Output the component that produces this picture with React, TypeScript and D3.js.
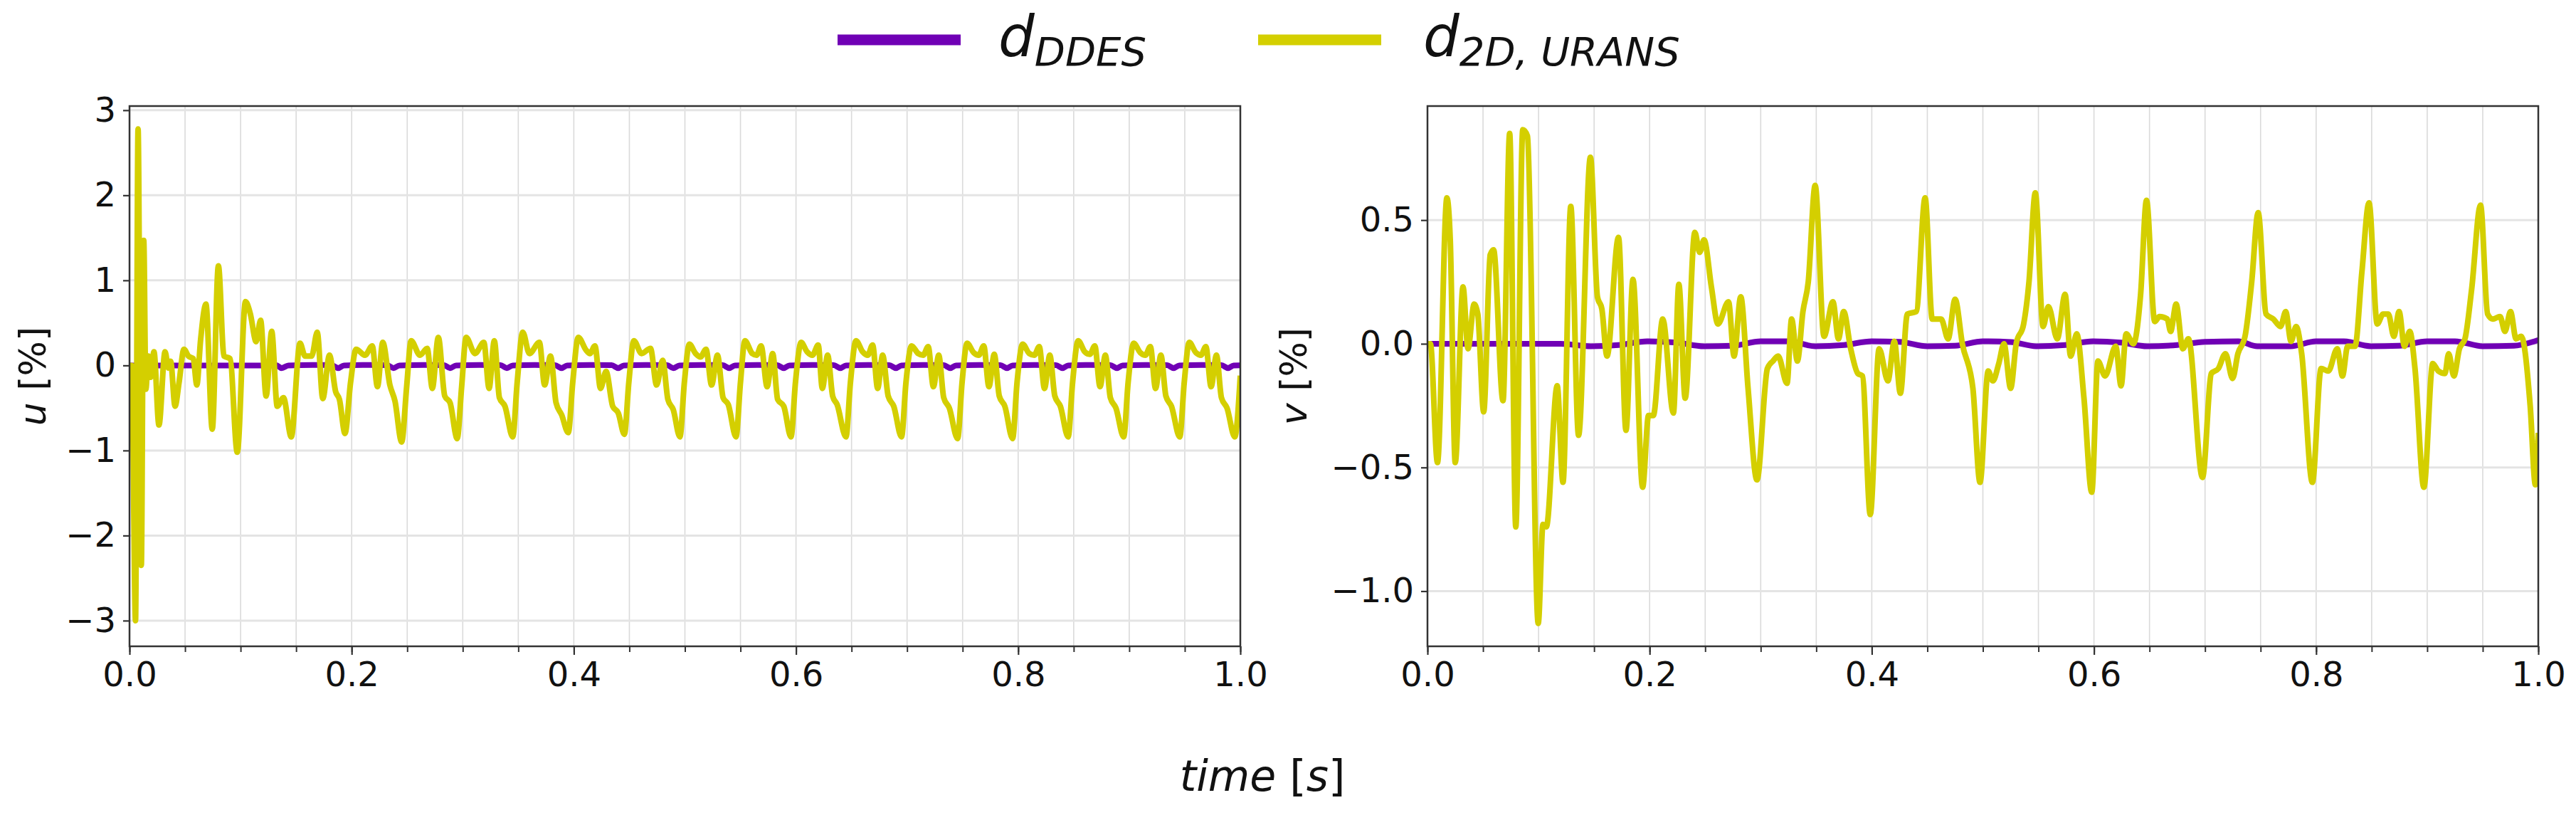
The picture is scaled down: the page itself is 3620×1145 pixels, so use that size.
import { useEffect, useRef } from 'react';
import * as d3 from 'd3';

type Pt = [number, number];

// Ticks
const xTicks = [0, 0.2, 0.4, 0.6, 0.8, 1.0];
const xGridTicks = [0, 0.05, 0.1, 0.15, 0.2, 0.25, 0.3, 0.35, 0.4, 0.45, 0.5, 0.55, 0.6, 0.65, 0.7, 0.75, 0.8, 0.85, 0.9, 0.95, 1.0];
const uTicks = [-3, -2, -1, 0, 1, 2, 3];
const vTicks = [-1.0, -0.5, 0.0, 0.5];

// u [%] - 2D URANS
const uUrans: Pt[] = [
  [0, 0], [0.002, 0.0], [0.0054, -3.0], [0.0077, 2.78], [0.0106, -2.35], [0.0128, 1.47], [0.0147, -0.28],
  [0.017, 0.11], [0.019, -0.14], [0.022, 0.16], [0.0265, -0.70], [0.032, 0.16], [0.035, -0.03], [0.037, 0.05],
  [0.041, -0.48], [0.0446, -0.20], [0.049, 0.19], [0.053, 0.11], [0.0574, 0.08], [0.0606, -0.23], [0.064, 0.30],
  [0.0688, 0.72], [0.0745, -0.75], [0.080, 1.17], [0.085, 0.11], [0.0905, 0.08], [0.097, -1.02], [0.1044, 0.75],
  [0.1087, 0.61], [0.114, 0.28], [0.118, 0.53], [0.123, -0.36], [0.128, 0.40], [0.133, -0.48], [0.1386, -0.38],
  [0.1456, -0.84], [0.1535, 0.26], [0.158, 0.11], [0.164, 0.11], [0.169, 0.39], [0.174, -0.39], [0.180, 0.12],
  [0.1856, -0.31], [0.189, -0.40], [0.194, -0.80],
  [0.199, -0.20], [0.204, 0.19], [0.212, 0.12], [0.2185, 0.23], [0.2232, -0.25], [0.228, 0.27], [0.2344, -0.23], [0.239, -0.42], [0.245, -0.90],
  [0.2495, -0.25], [0.2535, 0.29], [0.2615, 0.12], [0.268, 0.20], [0.2726, -0.27], [0.278, 0.33], [0.2838, -0.36], [0.2886, -0.44], [0.295, -0.86],
  [0.299, -0.25], [0.303, 0.33], [0.311, 0.14], [0.319, 0.27], [0.3237, -0.27], [0.3284, 0.29], [0.333, -0.38], [0.338, -0.48], [0.345, -0.84],
  [0.349, -0.20], [0.354, 0.39], [0.36, 0.14], [0.369, 0.27], [0.3737, -0.23], [0.379, 0.11], [0.384, -0.44], [0.389, -0.58], [0.395, -0.79],
  [0.399, -0.20], [0.404, 0.33], [0.411, 0.18], [0.4145, 0.14], [0.419, 0.23], [0.424, -0.27], [0.429, -0.07], [0.435, -0.48], [0.44, -0.56], [0.4455, -0.81],
  [0.4495, -0.20], [0.454, 0.29], [0.461, 0.14], [0.469, 0.20], [0.4745, -0.23], [0.48, 0.06], [0.4847, -0.40], [0.4895, -0.52], [0.4955, -0.84],
  [0.4995, -0.20], [0.504, 0.25], [0.5096, 0.14], [0.514, 0.10], [0.519, 0.19], [0.524, -0.23], [0.5293, 0.12], [0.5344, -0.38], [0.539, -0.46], [0.546, -0.84],
  [0.55, -0.20], [0.554, 0.29], [0.5606, 0.14], [0.5645, 0.12], [0.5686, 0.23], [0.574, -0.25], [0.579, 0.14], [0.5835, -0.40], [0.589, -0.48], [0.5955, -0.84],
  [0.5995, -0.20], [0.6046, 0.27], [0.61, 0.16], [0.6148, 0.12], [0.62, 0.24], [0.6237, -0.27], [0.6285, 0.12], [0.633, -0.36], [0.637, -0.46], [0.645, -0.84],
  [0.649, -0.20], [0.654, 0.29], [0.66, 0.16], [0.6645, 0.12], [0.669, 0.24], [0.6735, -0.27], [0.678, 0.12], [0.683, -0.36], [0.688, -0.48], [0.695, -0.84],
  [0.699, -0.20], [0.704, 0.23], [0.71, 0.14], [0.7145, 0.12], [0.719, 0.22], [0.7237, -0.25], [0.7285, 0.12], [0.733, -0.38], [0.738, -0.50], [0.7455, -0.86],
  [0.7495, -0.20], [0.754, 0.26], [0.76, 0.15], [0.7645, 0.12], [0.769, 0.23], [0.7737, -0.25], [0.7785, 0.13], [0.783, -0.36], [0.788, -0.48], [0.795, -0.86],
  [0.799, -0.20], [0.804, 0.25], [0.81, 0.14], [0.8145, 0.12], [0.819, 0.22], [0.8237, -0.27], [0.8285, 0.12], [0.833, -0.36], [0.838, -0.48], [0.845, -0.84],
  [0.849, -0.20], [0.854, 0.29], [0.86, 0.16], [0.8645, 0.13], [0.869, 0.23], [0.8737, -0.25], [0.8785, 0.12], [0.883, -0.38], [0.888, -0.50], [0.895, -0.84],
  [0.899, -0.20], [0.904, 0.26], [0.91, 0.15], [0.9145, 0.12], [0.919, 0.22], [0.9237, -0.27], [0.9285, 0.12], [0.933, -0.36], [0.938, -0.48], [0.9455, -0.84],
  [0.9495, -0.20], [0.954, 0.27], [0.96, 0.15], [0.9645, 0.12], [0.969, 0.22], [0.9737, -0.25], [0.9785, 0.12], [0.983, -0.38], [0.988, -0.50], [0.995, -0.84],
  [1.0, -0.12],
];

// u [%] - DDES
const uDdes: Pt[] = [
  [0, 0.0], [0.125, 0.0], [0.132, 0.004], [0.137, -0.032], [0.143, 0.0], [0.165, 0.005],
  [0.182, 0.003], [0.188, -0.032], [0.193, 0.0], [0.215, 0.005],
  [0.232, 0.003], [0.2376, -0.032], [0.243, 0.0], [0.265, 0.005],
  [0.283, 0.003], [0.2886, -0.032], [0.294, 0.0], [0.315, 0.005],
  [0.334, 0.003], [0.3396, -0.032], [0.345, 0.0], [0.365, 0.005],
  [0.383, 0.003], [0.389, -0.032], [0.394, 0.0], [0.415, 0.005],
  [0.434, 0.003], [0.44, -0.032], [0.445, 0.0], [0.465, 0.005],
  [0.484, 0.003], [0.4895, -0.032], [0.495, 0.0], [0.515, 0.005],
  [0.534, 0.003], [0.54, -0.032], [0.545, 0.0], [0.565, 0.005],
  [0.583, 0.003], [0.589, -0.032], [0.594, 0.0], [0.615, 0.005],
  [0.634, 0.003], [0.64, -0.032], [0.645, 0.0], [0.665, 0.005],
  [0.684, 0.003], [0.69, -0.032], [0.695, 0.0], [0.715, 0.005],
  [0.733, 0.003], [0.739, -0.032], [0.744, 0.0], [0.765, 0.005],
  [0.784, 0.003], [0.79, -0.032], [0.795, 0.0], [0.815, 0.005],
  [0.834, 0.003], [0.84, -0.032], [0.845, 0.0], [0.865, 0.005],
  [0.883, 0.003], [0.889, -0.032], [0.894, 0.0], [0.915, 0.005],
  [0.934, 0.003], [0.94, -0.032], [0.945, 0.0], [0.965, 0.005],
  [0.983, 0.003], [0.989, -0.032], [0.994, 0.0], [1.0, 0.002],
];

// v [%] - 2D URANS
const vUrans: Pt[] = [
  [0, 0.0], [0.0026, 0.0], [0.009, -0.48], [0.0175, 0.59], [0.0205, 0.42], [0.025, -0.48], [0.032, 0.23],
  [0.0365, -0.02], [0.042, 0.16], [0.0453, 0.12], [0.0506, -0.275], [0.0565, 0.36], [0.0595, 0.38], [0.068, -0.23],
  [0.074, 0.85], [0.0795, -0.74], [0.0858, 0.865], [0.090, 0.84], [0.0997, -1.13], [0.104, -0.73], [0.107, -0.74],
  [0.1168, -0.17], [0.122, -0.56], [0.129, 0.555], [0.136, -0.37], [0.1467, 0.754], [0.153, 0.19], [0.157, 0.14],
  [0.1616, -0.05], [0.172, 0.43], [0.1787, -0.35], [0.185, 0.26], [0.1937, -0.58], [0.199, -0.29], [0.2033, -0.29],
  [0.2118, 0.10], [0.2214, -0.28], [0.2263, 0.24], [0.232, -0.22], [0.2407, 0.45], [0.245, 0.37], [0.249, 0.42],
  [0.2556, 0.23], [0.2615, 0.08], [0.271, 0.17], [0.276, -0.05], [0.282, 0.19], [0.2886, -0.18], [0.2966, -0.55],
  [0.306, -0.10], [0.311, -0.07], [0.3157, -0.05], [0.3237, -0.16], [0.3278, 0.10], [0.333, -0.07], [0.338, 0.13],
  [0.3428, 0.25], [0.349, 0.64], [0.357, 0.03], [0.365, 0.17], [0.37, 0.02], [0.3747, 0.13], [0.381, -0.02],
  [0.3874, -0.12], [0.3916, -0.13], [0.3986, -0.69], [0.4066, -0.02], [0.4145, -0.15], [0.4203, 0.01], [0.4257, -0.20],
  [0.432, 0.12], [0.44, 0.13], [0.448, 0.59], [0.4544, 0.10], [0.4624, 0.10], [0.4687, 0.02], [0.475, 0.18],
  [0.4815, 0.0], [0.491, -0.18], [0.4974, -0.56], [0.5048, -0.11], [0.509, -0.15], [0.5143, -0.08], [0.519, 0.0],
  [0.525, -0.18], [0.530, 0.0], [0.5367, 0.08], [0.5415, 0.25], [0.5472, 0.61], [0.5542, 0.07], [0.559, 0.15],
  [0.567, 0.02], [0.574, 0.20], [0.579, -0.05], [0.5845, 0.04], [0.591, -0.22], [0.598, -0.60], [0.6036, -0.07],
  [0.61, -0.13], [0.6196, -0.01], [0.6244, -0.17], [0.629, 0.04], [0.6355, 0.0], [0.642, 0.20], [0.6473, 0.58],
  [0.6547, 0.09], [0.659, 0.11], [0.666, 0.10], [0.669, 0.05], [0.674, 0.16], [0.680, -0.02], [0.685, 0.02],
  [0.6977, -0.54], [0.7057, -0.12], [0.712, -0.10], [0.7184, -0.04], [0.7248, -0.14], [0.7296, -0.04], [0.736, 0.03],
  [0.742, 0.25], [0.7478, 0.53], [0.755, 0.12], [0.7615, 0.10], [0.768, 0.07], [0.7726, 0.13], [0.7774, 0.01],
  [0.782, 0.07], [0.787, -0.04], [0.7966, -0.56], [0.8045, -0.10], [0.811, -0.11], [0.819, -0.02], [0.8237, -0.13],
  [0.8284, -0.01], [0.835, -0.01], [0.8412, 0.29], [0.8476, 0.57], [0.855, 0.08], [0.8603, 0.12], [0.865, 0.12],
  [0.87, 0.03], [0.8747, 0.13], [0.8795, -0.01], [0.8843, 0.05], [0.889, -0.10], [0.897, -0.58], [0.905, -0.08],
  [0.91, -0.11], [0.916, -0.12], [0.9193, -0.04], [0.924, -0.13], [0.929, -0.02], [0.934, 0.02], [0.94, 0.22],
  [0.948, 0.56], [0.9544, 0.12], [0.959, 0.10], [0.9656, 0.11], [0.970, 0.05], [0.975, 0.13], [0.980, 0.02],
  [0.9847, 0.03], [0.9927, -0.25], [0.9974, -0.57], [1.0, -0.36],
];

// v [%] - DDES
const vDdes: Pt[] = [
  [0, 0.0], [0.12, 0.0], [0.147, -0.01], [0.172, -0.005], [0.198, 0.01], [0.224, 0.005], [0.249, -0.01],
  [0.275, -0.008], [0.30, 0.01], [0.325, 0.01], [0.349, -0.01], [0.375, -0.005], [0.40, 0.01], [0.425, 0.008],
  [0.45, -0.01], [0.475, -0.008], [0.5, 0.01], [0.525, 0.007], [0.548, -0.01], [0.574, -0.005], [0.599, 0.01],
  [0.624, 0.005], [0.648, -0.01], [0.675, -0.005], [0.70, 0.008], [0.73, 0.01], [0.747, -0.01], [0.777, -0.01],
  [0.80, 0.01], [0.825, 0.01], [0.849, -0.01], [0.875, -0.008], [0.90, 0.01], [0.925, 0.01], [0.95, -0.01],
  [0.978, -0.008], [1.0, 0.015],
];

const W = 3620;
const H = 1145;
const FONT = "'DejaVu Sans', sans-serif";
const COLOR_DDES = '#7000b5';
const COLOR_URANS = '#d4cf00';
const PLOT_TOP = 149;
const PLOT_BOTTOM = 908;
const PLOT_W = 1561;

const panels = [
  { key: 'u', left: 182, domain: [-3.302, 3.049], ticks: uTicks, format: d3.format('d'), ddes: uDdes, urans: uUrans, labelX: 46 },
  { key: 'v', left: 2006, domain: [-1.223, 0.961], ticks: vTicks, format: d3.format('.1f'), ddes: vDdes, urans: vUrans, labelX: 1818 },
];

export default function App() {
  const svgRef = useRef<SVGSVGElement>(null);

  useEffect(() => {
    if (!svgRef.current) return;
    const svg = d3.select(svgRef.current);
    svg.selectAll('*').remove();

    svg.append('rect').attr('width', W).attr('height', H).attr('fill', '#fff');

    panels.forEach(p => {
      const x = d3.scaleLinear().domain([0, 1]).range([p.left, p.left + PLOT_W]);
      const y = d3.scaleLinear().domain(p.domain).range([PLOT_BOTTOM, PLOT_TOP]);
      const g = svg.append('g');

      // Grid
      g.append('g')
        .selectAll('line')
        .data(xGridTicks)
        .join('line')
        .attr('x1', d => x(d)).attr('x2', d => x(d))
        .attr('y1', PLOT_TOP).attr('y2', PLOT_BOTTOM)
        .attr('stroke', '#dadada')
        .attr('stroke-width', 1.6);

      g.append('g')
        .selectAll('line')
        .data(p.ticks)
        .join('line')
        .attr('x1', p.left).attr('x2', p.left + PLOT_W)
        .attr('y1', d => y(d)).attr('y2', d => y(d))
        .attr('stroke', '#e4e4e4')
        .attr('stroke-width', 3);

      // Lines
      const clipId = `clip-${p.key}`;
      g.append('clipPath').attr('id', clipId)
        .append('rect')
        .attr('x', p.left).attr('y', PLOT_TOP)
        .attr('width', PLOT_W).attr('height', PLOT_BOTTOM - PLOT_TOP);

      const line = d3.line<Pt>()
        .x(d => x(d[0]))
        .y(d => y(d[1]))
        .curve(d3.curveMonotoneX);

      const lines = g.append('g').attr('clip-path', `url(#${clipId})`);
      lines.append('path')
        .datum(p.ddes)
        .attr('fill', 'none')
        .attr('stroke', COLOR_DDES)
        .attr('stroke-width', 8)
        .attr('stroke-linejoin', 'round')
        .attr('d', line);
      lines.append('path')
        .datum(p.urans)
        .attr('fill', 'none')
        .attr('stroke', COLOR_URANS)
        .attr('stroke-width', 8)
        .attr('stroke-linejoin', 'round')
        .attr('d', line);

      // Frame
      g.append('rect')
        .attr('x', p.left).attr('y', PLOT_TOP)
        .attr('width', PLOT_W).attr('height', PLOT_BOTTOM - PLOT_TOP)
        .attr('fill', 'none')
        .attr('stroke', '#333')
        .attr('stroke-width', 2.5);

      // X axis (minor ticks)
      const xMinor = g.append('g')
        .attr('transform', `translate(0,${PLOT_BOTTOM})`)
        .call(d3.axisBottom(x).tickValues(xGridTicks).tickSize(8).tickFormat(() => ''));
      xMinor.select('.domain').remove();
      xMinor.selectAll('line').attr('stroke', '#333').attr('stroke-width', 2);

      // X axis (major ticks)
      const xAxis = g.append('g')
        .attr('transform', `translate(0,${PLOT_BOTTOM})`)
        .call(d3.axisBottom(x).tickValues(xTicks).tickSize(12).tickPadding(10).tickFormat(d3.format('.1f')));
      xAxis.select('.domain').remove();
      xAxis.selectAll('line').attr('stroke', '#333').attr('stroke-width', 2.2);
      xAxis.selectAll('text')
        .style('font-family', FONT)
        .style('font-size', '48px')
        .attr('fill', '#111');

      // Y axis
      const yAxis = g.append('g')
        .attr('transform', `translate(${p.left},0)`)
        .call(d3.axisLeft(y).tickValues(p.ticks).tickSize(9).tickPadding(10).tickFormat(d => p.format(d as number)));
      yAxis.select('.domain').remove();
      yAxis.selectAll('line').attr('stroke', '#333').attr('stroke-width', 2.2);
      yAxis.selectAll('text')
        .style('font-family', FONT)
        .style('font-size', '48px')
        .attr('fill', '#111');

      // Y label
      const yl = svg.append('text')
        .attr('transform', `translate(${p.labelX},${(PLOT_TOP + PLOT_BOTTOM) / 2}) rotate(-90)`)
        .attr('text-anchor', 'middle')
        .attr('dominant-baseline', 'central')
        .style('font-family', FONT)
        .style('font-size', '52px')
        .attr('fill', '#111');
      yl.append('tspan').style('font-style', 'italic').text(p.key);
      yl.append('tspan').text(' [%]');
    });

    // X label
    const xl = svg.append('text')
      .attr('x', 1774)
      .attr('y', 1111)
      .attr('text-anchor', 'middle')
      .style('font-family', FONT)
      .style('font-size', '60px')
      .attr('fill', '#111');
    xl.append('tspan').style('font-style', 'italic').text('time');
    xl.append('tspan').text(' [');
    xl.append('tspan').style('font-style', 'italic').text('s');
    xl.append('tspan').text(']');

    // Legend
    const legend = [
      { color: COLOR_DDES, x: 1177, textX: 1403, sub: 'DDES' },
      { color: COLOR_URANS, x: 1768, textX: 2000, sub: '2D, URANS' },
    ];
    legend.forEach(item => {
      svg.append('line')
        .attr('x1', item.x).attr('x2', item.x + 173)
        .attr('y1', 56).attr('y2', 56)
        .attr('stroke', item.color)
        .attr('stroke-width', 15);
      const t = svg.append('text')
        .attr('x', item.textX)
        .attr('y', 79)
        .style('font-family', FONT)
        .style('font-size', '80px')
        .style('font-style', 'italic')
        .attr('fill', '#111');
      t.append('tspan').text('d');
      t.append('tspan').attr('dy', 13).style('font-size', '56px').text(item.sub);
    });
  }, []);

  return (
    <svg
      ref={svgRef}
      width={W}
      height={H}
      viewBox={`0 0 ${W} ${H}`}
      style={{ position: 'absolute', left: 0, top: 0, display: 'block' }}
    />
  );
}
